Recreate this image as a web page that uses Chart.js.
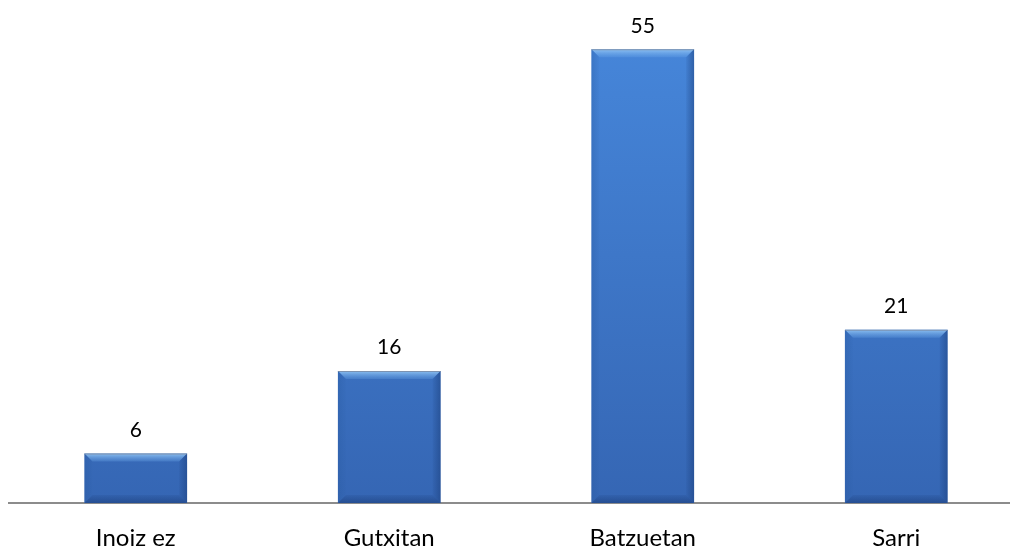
<!DOCTYPE html>
<html>
<head>
<meta charset="utf-8">
<script src="https://cdn.jsdelivr.net/npm/chart.js@4/dist/chart.umd.min.js"></script>
<style>
  html, body { margin: 0; padding: 0; background: #fff; overflow: hidden; }
  #wrap { width: 1023px; height: 547px; }
</style>
</head>
<body>
<div id="wrap"><canvas id="chart"></canvas></div>
<script>
const categories = ['Inoiz ez', 'Gutxitan', 'Batzuetan', 'Sarri'];
const values = [6, 16, 55, 21];

// bevel + value labels, drawn from the bar elements
const bevelPlugin = {
  id: 'bevel',
  afterDatasetsDraw(chart) {
    const ctx = chart.ctx;
    const meta = chart.getDatasetMeta(0);
    meta.data.forEach((bar, i) => {
      const l = bar.x - bar.width / 2, r = bar.x + bar.width / 2;
      const t = bar.y, b = bar.base;
      const d = 8;
      ctx.save();
      // top
      let g = ctx.createLinearGradient(0, t, 0, t + d);
      g.addColorStop(0, 'rgba(150,200,245,0.9)');
      g.addColorStop(1, 'rgba(110,170,235,0.25)');
      ctx.fillStyle = g;
      ctx.beginPath();
      ctx.moveTo(l, t); ctx.lineTo(r, t); ctx.lineTo(r - d, t + d); ctx.lineTo(l + d, t + d);
      ctx.closePath(); ctx.fill();
      // left
      g = ctx.createLinearGradient(l, 0, l + d, 0);
      g.addColorStop(0, 'rgba(40,90,160,0.35)');
      g.addColorStop(1, 'rgba(40,90,160,0.05)');
      ctx.fillStyle = g;
      ctx.beginPath();
      ctx.moveTo(l, t); ctx.lineTo(l + d, t + d); ctx.lineTo(l + d, b - d); ctx.lineTo(l, b);
      ctx.closePath(); ctx.fill();
      // right
      g = ctx.createLinearGradient(r, 0, r - d, 0);
      g.addColorStop(0, 'rgba(25,60,120,0.5)');
      g.addColorStop(1, 'rgba(25,60,120,0.08)');
      ctx.fillStyle = g;
      ctx.beginPath();
      ctx.moveTo(r, t); ctx.lineTo(r - d, t + d); ctx.lineTo(r - d, b - d); ctx.lineTo(r, b);
      ctx.closePath(); ctx.fill();
      // bottom
      g = ctx.createLinearGradient(0, b, 0, b - d);
      g.addColorStop(0, 'rgba(20,50,105,0.45)');
      g.addColorStop(1, 'rgba(20,50,105,0.1)');
      ctx.fillStyle = g;
      ctx.beginPath();
      ctx.moveTo(l, b); ctx.lineTo(l + d, b - d); ctx.lineTo(r - d, b - d); ctx.lineTo(r, b);
      ctx.closePath(); ctx.fill();
      // top outline
      ctx.strokeStyle = 'rgba(120,130,150,0.7)';
      ctx.lineWidth = 1;
      ctx.beginPath();
      ctx.moveTo(l, t + 0.5); ctx.lineTo(r, t + 0.5);
      ctx.stroke();
      // value label
      ctx.fillStyle = '#000';
      ctx.font = '21px Lato, "Noto Sans", sans-serif';
      ctx.textAlign = 'center';
      ctx.textBaseline = 'bottom';
      ctx.fillText(String(values[i]), bar.x, t - 13);
      ctx.restore();
    });
  }
};

const chart = new Chart(document.getElementById('chart'), {
  type: 'bar',
  data: {
    labels: categories,
    datasets: [{
      data: values,
      backgroundColor: (c) => {
        const area = c.chart.chartArea;
        if (!area) return '#3f7fd0';
        const g = c.chart.ctx.createLinearGradient(0, area.top, 0, area.bottom);
        g.addColorStop(0, '#4788dc');
        g.addColorStop(1, '#3566b4');
        return g;
      },
      borderWidth: 0,
      barPercentage: 0.405,
      categoryPercentage: 1
    }]
  },
  options: {
    responsive: true,
    maintainAspectRatio: false,
    animation: false,
    layout: { padding: { left: 9, right: 0, top: 8, bottom: 0 } },
    plugins: { legend: { display: false }, tooltip: { enabled: false } },
    scales: {
      y: { display: false, min: 0, max: 60 },
      x: {
        grid: { display: false, drawTicks: false },
        border: { display: true, color: '#8c8c8c', width: 2 },
        ticks: { color: '#000', padding: 21, font: { family: 'Lato, "Noto Sans", sans-serif', size: 24 } },
        afterFit(scale) { scale.height = 44; }
      }
    }
  },
  plugins: [bevelPlugin]
});
</script>
</body>
</html>
